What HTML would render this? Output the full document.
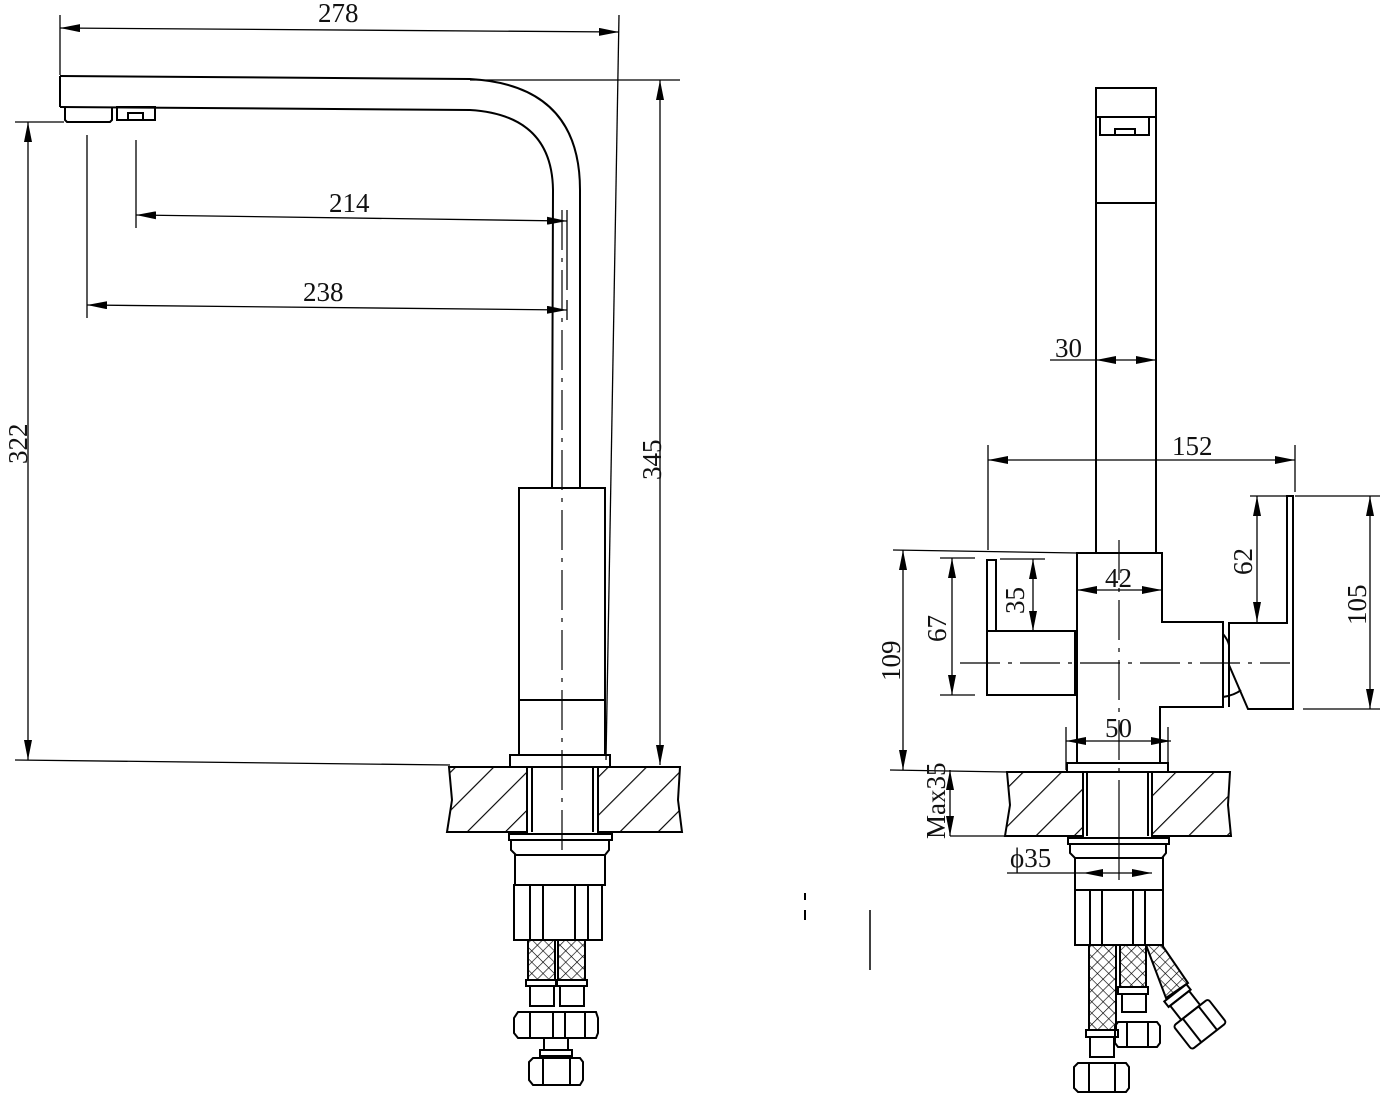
<!DOCTYPE html>
<html><head><meta charset="utf-8"><style>
html,body{margin:0;padding:0;background:#fff;}
svg{display:block}
text{font-family:"Liberation Serif",serif;font-size:27px;fill:#111;}
</style></head><body>
<svg width="1388" height="1100" viewBox="0 0 1388 1100" xmlns="http://www.w3.org/2000/svg">
<defs>
<marker id="a" viewBox="0 0 20 8" refX="20" refY="4" markerWidth="20" markerHeight="8" orient="auto-start-reverse" markerUnits="userSpaceOnUse"><path d="M0,0 L20,4 L0,8 z" fill="#000"/></marker>
<pattern id="h" patternUnits="userSpaceOnUse" width="27" height="27" patternTransform="rotate(45)"><line x1="0" y1="0" x2="0" y2="27" stroke="#000" stroke-width="2.3"/></pattern>
<pattern id="x" patternUnits="userSpaceOnUse" width="8" height="8" patternTransform="rotate(45)"><path d="M0,0 H8 M0,0 V8" stroke="#000" stroke-width="1.3"/></pattern>
</defs>
<g fill="none" stroke="#000" stroke-width="1.3">
<line x1="60" y1="15" x2="60" y2="75"/>
<line x1="619" y1="15" x2="606" y2="760"/>
<line x1="60" y1="28" x2="619" y2="32" marker-start="url(#a)" marker-end="url(#a)"/>
<line x1="470" y1="80" x2="680" y2="80"/>
<line x1="660" y1="80" x2="660" y2="765" marker-start="url(#a)" marker-end="url(#a)"/>
<line x1="15" y1="122" x2="64" y2="122"/>
<line x1="28" y1="122" x2="28" y2="760" marker-start="url(#a)" marker-end="url(#a)"/>
<line x1="15" y1="760" x2="450" y2="765"/>
<line x1="136" y1="140" x2="136" y2="228"/>
<line x1="567" y1="210" x2="567" y2="290"/>
<line x1="567" y1="300" x2="567" y2="320"/>
<line x1="136" y1="215" x2="567" y2="221" marker-start="url(#a)" marker-end="url(#a)"/>
<line x1="87" y1="135" x2="87" y2="318"/>
<line x1="87" y1="305" x2="567" y2="310" marker-start="url(#a)" marker-end="url(#a)"/>
</g>
<g fill="none" stroke="#000" stroke-width="2">
<path d="M60,76 L470,79 Q580,85 580,190 L580,488"/>
<path d="M60,107 L470,110 Q552,115 553,190 L552,488"/>
<line x1="60" y1="76" x2="60" y2="107"/>
<path d="M65,107 V120 L67,122 H110 L112,120 V107"/>
<rect x="117" y="107" width="38" height="13"/>
<rect x="128" y="113" width="15" height="7"/>
<rect x="519" y="488" width="86" height="267"/>
<line x1="519" y1="700" x2="605" y2="700"/>
<rect x="510" y="755" width="100" height="12"/>
</g>
<line x1="562" y1="210" x2="562" y2="850" stroke="#000" stroke-width="1.2" stroke-dasharray="40,8,4,8"/>
<path d="M449,767 H527 V832 H447 L452,800 Z" fill="url(#h)" stroke="#000" stroke-width="2"/>
<path d="M598,767 H680 L678,800 L682,832 H598 Z" fill="url(#h)" stroke="#000" stroke-width="2"/>
<g fill="none" stroke="#000" stroke-width="2">
<line x1="527" y1="767" x2="527" y2="832"/><line x1="532" y1="767" x2="532" y2="832"/>
<line x1="598" y1="767" x2="598" y2="832"/><line x1="593" y1="767" x2="593" y2="832"/>
<rect x="509" y="834" width="103" height="6"/>
<path d="M511,840 V850 L516,855 H605 L609,850 V840"/>
<rect x="515" y="855" width="90" height="30"/>
<rect x="514" y="885" width="88" height="55"/>
<line x1="530" y1="885" x2="530" y2="940"/><line x1="543" y1="885" x2="543" y2="940"/>
<line x1="575" y1="885" x2="575" y2="940"/><line x1="588" y1="885" x2="588" y2="940"/>
<rect x="528" y="940" width="27" height="40" fill="url(#x)"/>
<rect x="558" y="940" width="27" height="40" fill="url(#x)"/>
<rect x="526" y="980" width="30" height="6"/><rect x="557" y="980" width="30" height="6"/>
<rect x="530" y="986" width="24" height="20"/><rect x="560" y="986" width="24" height="20"/>
<path d="M518,1012 H596 L598,1018 V1033 L596,1038 H518 L514,1033 V1018 Z"/>
<line x1="530" y1="1012" x2="530" y2="1038"/><line x1="553" y1="1012" x2="553" y2="1038"/><line x1="565" y1="1012" x2="565" y2="1038"/><line x1="585" y1="1012" x2="585" y2="1038"/>
<rect x="544" y="1038" width="24" height="12"/>
<rect x="540" y="1050" width="32" height="6"/>
<path d="M533,1058 H580 L583,1062 V1080 L580,1085 H533 L529,1080 V1062 Z"/>
<line x1="543" y1="1058" x2="543" y2="1085"/><line x1="570" y1="1058" x2="570" y2="1085"/>
</g>
<line x1="805" y1="893" x2="805" y2="900" stroke="#000" stroke-width="2"/>
<line x1="805" y1="910" x2="805" y2="920" stroke="#000" stroke-width="2"/>
<line x1="870" y1="910" x2="870" y2="970" stroke="#000" stroke-width="1.5"/>

<g fill="none" stroke="#000" stroke-width="2">
<rect x="1096" y="88" width="60" height="29"/>
<line x1="1096" y1="117" x2="1096" y2="553"/><line x1="1156" y1="117" x2="1156" y2="553"/>
<rect x="1100" y="117" width="49" height="18"/>
<rect x="1115" y="129" width="20" height="6"/>
<line x1="1096" y1="203" x2="1156" y2="203"/>
<path d="M1077,763 V553 H1162 V622 H1223 V707 H1160 V763"/>
<rect x="1067" y="763" width="101" height="9"/>
<rect x="987" y="631" width="88" height="64"/>
<rect x="987" y="560" width="9" height="71"/>
<path d="M1229,707 V623 H1287 V496 H1293 V709 H1248 L1229,665"/>
<path d="M1223,634 Q1228,640 1229,645"/>
<path d="M1223,697 Q1235,695 1241,690"/>
</g>
<g stroke="#000" stroke-width="1.2" fill="none">
<line x1="960" y1="663" x2="1290" y2="663" stroke-dasharray="40,8,4,8"/>
<line x1="1119" y1="540" x2="1119" y2="800" stroke-dasharray="40,8,4,8"/>
<line x1="1119" y1="800" x2="1119" y2="880"/>
</g>
<path d="M1007,772 H1083 V836 H1005 L1010,805 Z" fill="url(#h)" stroke="#000" stroke-width="2"/>
<path d="M1152,772 H1230 L1228,805 L1231,836 H1152 Z" fill="url(#h)" stroke="#000" stroke-width="2"/>
<g fill="none" stroke="#000" stroke-width="2">
<line x1="1083" y1="772" x2="1083" y2="836"/><line x1="1087" y1="772" x2="1087" y2="836"/>
<line x1="1152" y1="772" x2="1152" y2="836"/><line x1="1148" y1="772" x2="1148" y2="836"/>
<rect x="1068" y="838" width="101" height="6"/>
<path d="M1070,844 V853 L1075,858 H1162 L1166,853 V844"/>
<rect x="1075" y="858" width="88" height="32"/>
<rect x="1075" y="890" width="88" height="55"/>
<line x1="1090" y1="890" x2="1090" y2="945"/><line x1="1102" y1="890" x2="1102" y2="945"/>
<line x1="1133" y1="890" x2="1133" y2="945"/><line x1="1145" y1="890" x2="1145" y2="945"/>
<rect x="1089" y="945" width="27" height="85" fill="url(#x)"/>
<rect x="1120" y="945" width="26" height="42" fill="url(#x)"/>
<path d="M1146,945 L1162,945 L1188,983 L1166,998 Z" fill="url(#x)"/>
<rect x="1086" y="1030" width="32" height="7"/>
<rect x="1090" y="1037" width="24" height="20"/>
<path d="M1078,1063 H1126 L1129,1067 V1088 L1126,1092 H1078 L1074,1088 V1067 Z"/>
<line x1="1089" y1="1063" x2="1089" y2="1092"/><line x1="1115" y1="1063" x2="1115" y2="1092"/>
<rect x="1118" y="987" width="30" height="7"/>
<rect x="1122" y="994" width="24" height="18"/>
<path d="M1118,1022 H1157 L1160,1026 V1043 L1157,1047 H1118 L1115,1043 V1026 Z"/>
<line x1="1127" y1="1022" x2="1127" y2="1047"/><line x1="1148" y1="1022" x2="1148" y2="1047"/>
<g transform="translate(1195,1018) rotate(-38)">
<rect x="-14" y="-32" width="28" height="7"/>
<rect x="-12" y="-25" width="24" height="18"/>
<rect x="-22" y="-7" width="44" height="30" rx="3"/>
<line x1="-10" y1="-7" x2="-10" y2="23"/><line x1="10" y1="-7" x2="10" y2="23"/>
</g>
</g>
<g fill="none" stroke="#000" stroke-width="1.3">
<line x1="1050" y1="360" x2="1096" y2="360"/>
<line x1="1096" y1="360" x2="1156" y2="360" marker-start="url(#a)" marker-end="url(#a)"/>
<line x1="988" y1="445" x2="988" y2="550"/>
<line x1="1295" y1="445" x2="1295" y2="492"/>
<line x1="988" y1="460" x2="1295" y2="460" marker-start="url(#a)" marker-end="url(#a)"/>
<line x1="1077" y1="590" x2="1162" y2="590" marker-start="url(#a)" marker-end="url(#a)"/>
<line x1="1066" y1="727" x2="1066" y2="770"/><line x1="1168" y1="727" x2="1168" y2="770"/>
<line x1="1066" y1="741" x2="1171" y2="741" marker-start="url(#a)" marker-end="url(#a)"/>
<line x1="1000" y1="559" x2="1045" y2="559"/>
<line x1="1033" y1="559" x2="1033" y2="631" marker-start="url(#a)" marker-end="url(#a)"/>
<line x1="940" y1="558" x2="975" y2="558"/><line x1="940" y1="695" x2="975" y2="695"/>
<line x1="952" y1="558" x2="952" y2="695" marker-start="url(#a)" marker-end="url(#a)"/>
<line x1="893" y1="550" x2="1077" y2="553"/>
<line x1="903" y1="550" x2="903" y2="770" marker-start="url(#a)" marker-end="url(#a)"/>
<line x1="890" y1="770" x2="1007" y2="772"/>
<line x1="950" y1="836" x2="1005" y2="836"/>
<line x1="950" y1="770" x2="950" y2="836" marker-start="url(#a)" marker-end="url(#a)"/>
<line x1="1250" y1="496" x2="1287" y2="496"/>
<line x1="1257" y1="496" x2="1257" y2="622" marker-start="url(#a)" marker-end="url(#a)"/>
<line x1="1295" y1="496" x2="1380" y2="496"/><line x1="1303" y1="709" x2="1380" y2="709"/>
<line x1="1370" y1="496" x2="1370" y2="709" marker-start="url(#a)" marker-end="url(#a)"/>
<line x1="1007" y1="873" x2="1083" y2="873"/>
<line x1="1083" y1="873" x2="1152" y2="873" marker-start="url(#a)" marker-end="url(#a)"/>
</g>
<text x="318" y="22">278</text>
<text x="329" y="212">214</text>
<text x="303" y="301">238</text>
<text transform="translate(27,464) rotate(-90)">322</text>
<text transform="translate(661,480) rotate(-90)">345</text>
<text x="1055" y="357" font-size="21">30</text>
<text x="1172" y="455">152</text>
<text x="1105" y="587" font-size="23">42</text>
<text x="1105" y="737">50</text>
<text transform="translate(1024,614) rotate(-90)" font-size="21">35</text>
<text transform="translate(946,642) rotate(-90)">67</text>
<text transform="translate(900,681) rotate(-90)">109</text>
<text transform="translate(945,839) rotate(-90)" font-size="23">Max35</text>
<text transform="translate(1252,575) rotate(-90)" font-size="23">62</text>
<text transform="translate(1366,625) rotate(-90)">105</text>
<text x="1010" y="867" font-size="21">ϕ35</text>
</svg>
</body></html>
